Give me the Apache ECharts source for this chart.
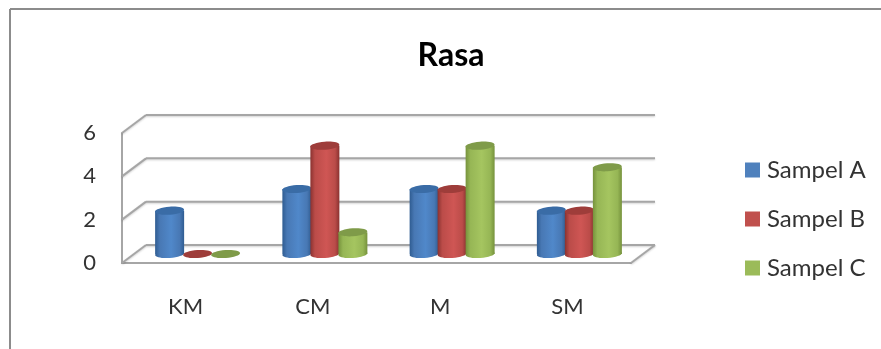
<!DOCTYPE html>
<html>
<head>
<meta charset="utf-8">
<style>html,body{margin:0;padding:0;background:#fff}#chart{width:881px;height:349px}</style>
<script src="https://cdn.jsdelivr.net/npm/echarts@6/dist/echarts.min.js"></script>
</head>
<body>
<div id="chart"></div>
<script>
const categories = ['KM', 'CM', 'M', 'SM'];
const sampelA = [2, 3, 3, 2];
const sampelB = [0, 5, 3, 2];
const sampelC = [0, 1, 5, 4];
const yTicks = [0, 2, 4, 6];

const FONT = 'Lato, "Open Sans", sans-serif';
const WALL = '#a6a6a6';
// Oblique projection of the chart box: how far the back wall sits from the front plane
const DEPTH_X = 24, DEPTH_Y = 18;
const BAR_W = 29, BAR_STEP = 28, CAP_RY = 4, TILT = 0.07;

const palettes = {
  A: { edge: '#2f5c91', mid: '#4878b4', light: '#5088ca', cap: '#3a6ca6' },
  B: { edge: '#8a3230', mid: '#bb4c49', light: '#cf5654', cap: '#9e3d3a' },
  C: { edge: '#76923c', mid: '#96b655', light: '#a5c560', cap: '#7f9b49' }
};

function renderWalls(params, api) {
  const cs = params.coordSys;
  const y = api.coord([0, api.value(1)])[1];
  const left = cs.x, right = cs.x + cs.width;
  const style = { stroke: WALL, lineWidth: 2, fill: null, shadowColor: 'rgba(0,0,0,0.18)', shadowBlur: 2, shadowOffsetY: 1 };
  const lineEl = (x1, y1, x2, y2) => ({
    type: 'line', shape: { x1, y1, x2, y2 }, style
  });
  const kids = [
    lineEl(left, y, left + DEPTH_X, y - DEPTH_Y),
    lineEl(left + DEPTH_X, y - DEPTH_Y, right + DEPTH_X, y - DEPTH_Y)
  ];
  // The floor also closes on the right-hand side
  if (api.value(1) === yTicks[0]) {
    kids.push(lineEl(right, y, right + DEPTH_X, y - DEPTH_Y));
  }
  return { type: 'group', children: kids };
}

function cylinderRenderer(pal, slot) {
  return function (params, api) {
    const base = api.coord([api.value(0), 0]);
    const top = api.coord([api.value(0), api.value(1)]);
    const cx = base[0] + DEPTH_X / 2 + slot * BAR_STEP;
    const yBase = base[1] - DEPTH_Y / 2;
    const yTop = top[1] - DEPTH_Y / 2;
    const rx = BAR_W / 2;
    const grad = new echarts.graphic.LinearGradient(0, 0, 1, 0, [
      { offset: 0, color: pal.edge },
      { offset: 0.16, color: pal.mid },
      { offset: 0.55, color: pal.light },
      { offset: 0.85, color: pal.mid },
      { offset: 1, color: pal.edge }
    ]);
    const ellipse = (cyy, fill) => ({
      type: 'ellipse',
      shape: { cx, cy: cyy, rx, ry: CAP_RY },
      style: { fill },
      rotation: TILT,
      originX: cx,
      originY: cyy
    });
    const kids = [];
    if (yBase - yTop > 0.5) {
      kids.push({
        type: 'rect',
        shape: { x: cx - rx, y: yTop, width: BAR_W, height: yBase - yTop },
        style: { fill: grad }
      });
      kids.push(ellipse(yBase, grad));
    }
    kids.push(ellipse(yTop, pal.cap));
    return { type: 'group', children: kids };
  };
}

function cylinderSeries(name, values, pal, legendColor, slot) {
  return {
    name,
    type: 'custom',
    z: 3 + slot,
    clip: false,
    itemStyle: { color: legendColor },
    encode: { x: 0, y: 1 },
    renderItem: cylinderRenderer(pal, slot),
    data: categories.map((c, i) => [c, values[i]])
  };
}

const chart = echarts.init(document.getElementById('chart'), null, { renderer: 'canvas' });
chart.setOption({
  animation: false,
  backgroundColor: '#fff',
  title: {
    text: 'Rasa',
    left: 451,
    top: 40,
    padding: 0,
    textAlign: 'center',
    textStyle: { fontFamily: FONT, fontSize: 32, fontWeight: 'bold', color: '#000' }
  },
  legend: {
    data: ['Sampel A', 'Sampel B', 'Sampel C'],
    orient: 'vertical',
    left: 745,
    top: 158,
    padding: 0,
    itemWidth: 15,
    itemHeight: 15,
    itemGap: 25,
    icon: 'rect',
    textStyle: { fontFamily: FONT, fontSize: 24, lineHeight: 15, color: '#333', padding: [0, 0, 0, 2] }
  },
  grid: { left: 122, right: 250, top: 133, bottom: 86, containLabel: false },
  xAxis: {
    type: 'category',
    data: categories,
    axisLine: { show: true, lineStyle: { color: WALL, width: 2 } },
    axisTick: { show: false },
    axisLabel: { margin: 33, fontFamily: FONT, fontSize: 22, color: '#333' }
  },
  yAxis: {
    type: 'value',
    min: 0,
    max: 6,
    interval: 2,
    axisLine: { show: true, lineStyle: { color: WALL, width: 2 } },
    axisTick: { show: false },
    splitLine: { show: false },
    axisLabel: { margin: 26, fontFamily: FONT, fontSize: 22, color: '#333' }
  },
  series: [
    {
      name: 'walls',
      type: 'custom',
      z: 1,
      clip: false,
      silent: true,
      encode: { x: 0, y: 1 },
      renderItem: renderWalls,
      data: yTicks.map(v => [categories[0], v])
    },
    cylinderSeries('Sampel A', sampelA, palettes.A, '#4f81bd', -1),
    cylinderSeries('Sampel B', sampelB, palettes.B, '#c0504d', 0),
    cylinderSeries('Sampel C', sampelC, palettes.C, '#9bbb59', 1)
  ],
  graphic: [
    // Outer frame running along the top and left edges only
    { type: 'line', z: 0, shape: { x1: 10, y1: 9, x2: 881, y2: 9 }, style: { stroke: '#8c8c8c', lineWidth: 2 } },
    { type: 'line', z: 0, shape: { x1: 10, y1: 9, x2: 10, y2: 349 }, style: { stroke: '#8c8c8c', lineWidth: 2 } }
  ]
});
</script>
</body>
</html>
